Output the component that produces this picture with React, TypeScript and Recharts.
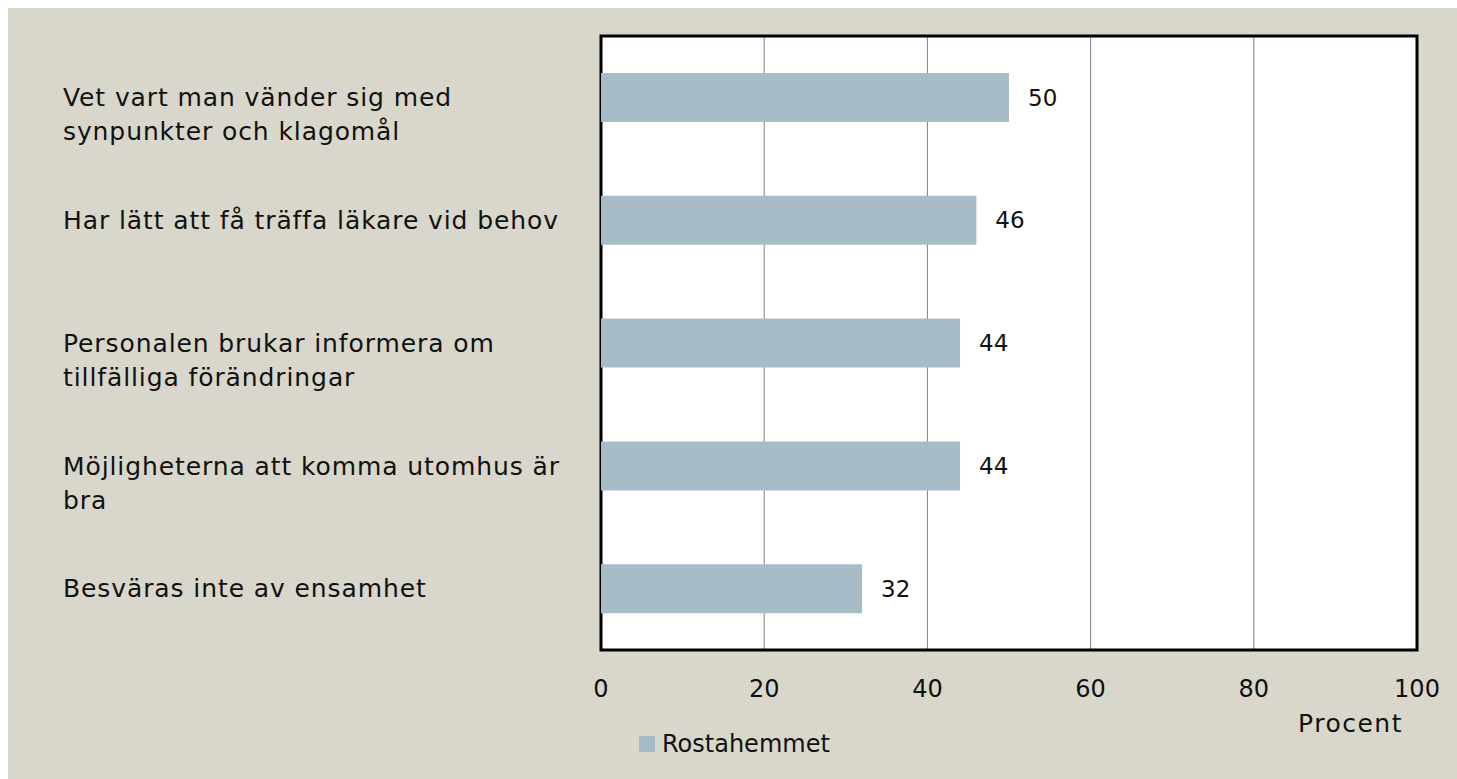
import { BarChart, Bar, XAxis, YAxis, CartesianGrid, ReferenceArea, LabelList, Legend } from 'recharts';

const categories = [
  'Vet vart man vänder sig med\nsynpunkter och klagomål',
  'Har lätt att få träffa läkare vid behov',
  'Personalen brukar informera om\ntillfälliga förändringar',
  'Möjligheterna att komma utomhus är\nbra',
  'Besväras inte av ensamhet',
];
const values = [50, 46, 44, 44, 32];
const xTicks = [0, 20, 40, 60, 80, 100];
const seriesName = 'Rostahemmet';

const data = categories.map((c, i) => ({ name: c, value: values[i] }));

const FONT = '"DejaVu Sans", sans-serif';
const BAR = '#a8bcc7';

function CategoryTick(props: any) {
  const { y, payload } = props;
  const lines = String(payload.value).split('\n');
  return (
    <text x={55} y={y} fontFamily={FONT} fontSize={25} letterSpacing={0.9} fill="#111" textAnchor="start">
      {lines.map((l, i) => (
        <tspan key={i} x={55} dy={i === 0 ? '0.35em' : 34}>{l}</tspan>
      ))}
    </text>
  );
}

function renderLegend() {
  return (
    <div style={{ display: 'flex', alignItems: 'center', fontFamily: FONT, fontSize: 24, color: '#111' }}>
      <span style={{ width: 16, height: 16, background: BAR, display: 'inline-block', marginRight: 7 }} />
      {seriesName}
    </div>
  );
}

export default function App() {
  return (
    <div style={{ width: 1457, height: 779, background: '#fff', position: 'relative', overflow: 'hidden' }}>
      <style>{'body{margin:0}'}</style>
      <div style={{ position: 'absolute', left: 8, top: 8, width: 1449, height: 771, background: '#d9d7cb' }}>
        <BarChart
          width={1449}
          height={771}
          data={data}
          layout="vertical"
          margin={{ top: 28, right: 40, left: 0, bottom: 0 }}
        >
          <CartesianGrid horizontal={false} stroke="#808080" fill="#fff" />
          <XAxis
            type="number"
            domain={[0, 100]}
            ticks={xTicks}
            height={129}
            axisLine={false}
            tickLine={false}
            tickSize={0}
            tickMargin={30}
            tick={{ fontFamily: FONT, fontSize: 24, fill: '#111' }}
            label={{
              content: ({ viewBox }: any) => (
                <text
                  x={viewBox.x + viewBox.width - 14}
                  y={viewBox.y + 82}
                  textAnchor="end"
                  fontFamily={FONT}
                  fontSize={25}
                  letterSpacing={1.5}
                  fill="#111"
                >
                  Procent
                </text>
              ),
            }}
          />
          <YAxis
            type="category"
            dataKey="name"
            width={593}
            axisLine={false}
            tickLine={false}
            tick={<CategoryTick />}
            interval={0}
          />
          <Bar dataKey="value" name={seriesName} fill={BAR} barSize={49} isAnimationActive={false}>
            <LabelList
              dataKey="value"
              position="right"
              offset={19}
              style={{ fontFamily: FONT, fontSize: 23, fill: '#111' }}
            />
          </Bar>
          <ReferenceArea x1={0} x2={100} fill="none" stroke="#000" strokeWidth={3} ifOverflow="visible" />
          <Legend
            layout="horizontal"
            verticalAlign="middle"
            align="center"
            content={renderLegend}
            wrapperStyle={{ left: 631, top: 722, width: 'auto' }}
          />
        </BarChart>
      </div>
    </div>
  );
}
